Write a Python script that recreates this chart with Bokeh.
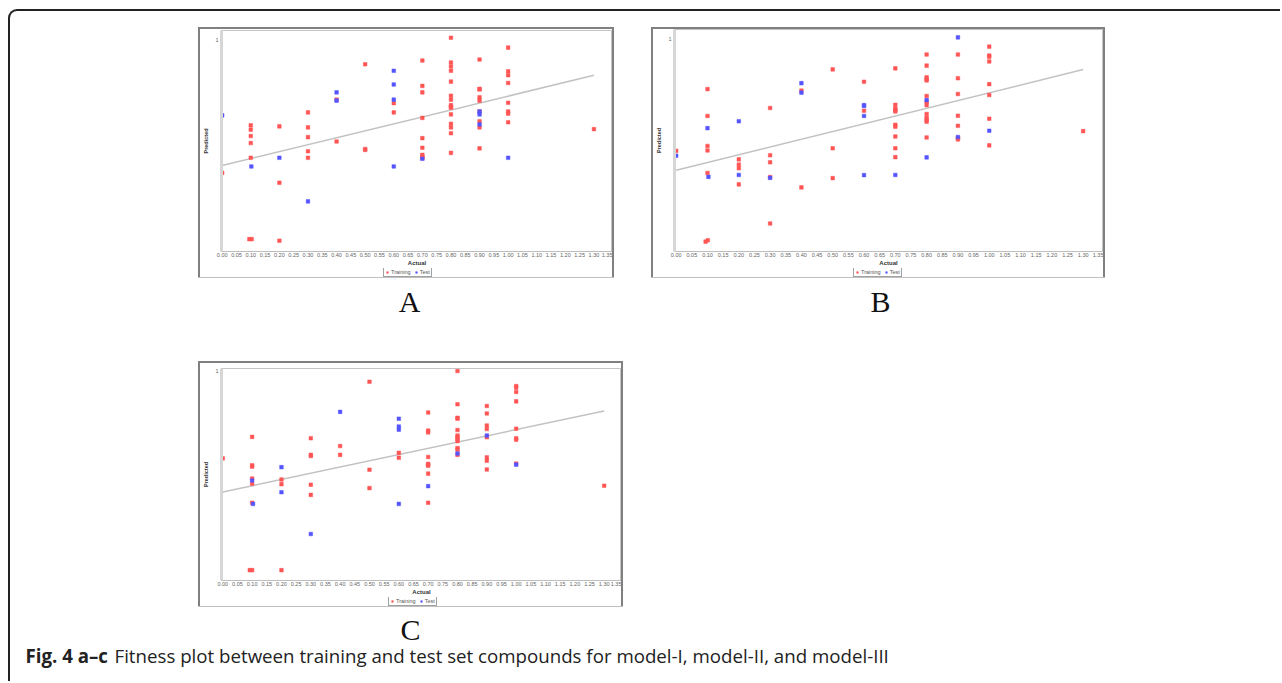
from bokeh.plotting import figure
from bokeh.models import Range1d, FixedTicker, Legend, LegendItem, Spacer, NumeralTickFormatter
from bokeh.layouts import column, row
from bokeh.core.properties import value
from bokeh.embed import file_html
from bokeh.resources import INLINE

# ---------------- data ----------------
x_ticks = [0.00, 0.05, 0.10, 0.15, 0.20, 0.25, 0.30, 0.35, 0.40, 0.45, 0.50, 0.55, 0.60, 0.65,
           0.70, 0.75, 0.80, 0.85, 0.90, 0.95, 1.00, 1.05, 1.10, 1.15, 1.20, 1.25, 1.30, 1.35]
x_tick_labels = ["0.00", "0.05", "0.10", "0.15", "0.20", "0.25", "0.30", "0.35", "0.40", "0.45",
                 "0.50", "0.55", "0.60", "0.65", "0.70", "0.75", "0.80", "0.85", "0.90", "0.95",
                 "1.00", "1.05", "1.10", "1.15", "1.20", "1.25", "1.30", "1.35"]
y_ticks = [1]
y_tick_labels = ["1"]

# Panel A (model-I)
a_train_x = [0.00,
             0.10, 0.10, 0.10, 0.10, 0.10, 0.095, 0.103,
             0.20, 0.20, 0.20,
             0.30, 0.30, 0.30, 0.30, 0.30,
             0.40, 0.40,
             0.50, 0.50, 0.50,
             0.60, 0.60,
             0.70, 0.70, 0.70, 0.70, 0.70, 0.70, 0.70, 0.70, 0.70,
             0.80, 0.80, 0.80, 0.80, 0.80, 0.80, 0.80, 0.80, 0.80, 0.80, 0.80, 0.80, 0.80, 0.80, 0.80,
             0.90, 0.90, 0.90, 0.90, 0.90, 0.90, 0.90, 0.90, 0.90,
             1.00, 1.00, 1.00, 1.00, 1.00, 1.00, 1.00, 1.00,
             1.30]
a_train_y = [0.325,
             0.567, 0.545, 0.513, 0.477, 0.402, -0.012, -0.012,
             0.562, 0.275, -0.020,
             0.633, 0.557, 0.507, 0.435, 0.402,
             0.698, 0.485,
             0.878, 0.447, 0.442,
             0.680, 0.633,
             0.897, 0.768, 0.735, 0.605, 0.502, 0.453, 0.417, 0.408, 0.400,
             1.013, 0.887, 0.867, 0.845, 0.790, 0.718, 0.698, 0.670, 0.662, 0.657, 0.623, 0.575, 0.557, 0.527, 0.427,
             0.902, 0.753, 0.750, 0.710, 0.693, 0.638, 0.588, 0.557, 0.450,
             0.963, 0.842, 0.822, 0.783, 0.682, 0.638, 0.627, 0.583,
             0.548]
a_test_x = [0.00, 0.102, 0.20, 0.30, 0.40, 0.40, 0.60, 0.60, 0.60, 0.60, 0.70, 0.90, 0.90, 0.90, 1.00]
a_test_y = [0.618, 0.358, 0.402, 0.180, 0.735, 0.693, 0.845, 0.775, 0.698, 0.358, 0.397, 0.638, 0.623, 0.572, 0.402]
a_fit_x = [0.0, 1.30]
a_fit_y = [0.363, 0.822]

# Panel B (model-II)
b_train_x = [0.00,
             0.10, 0.10, 0.10, 0.10, 0.10, 0.094, 0.101,
             0.20, 0.20, 0.20, 0.20,
             0.30, 0.30, 0.30, 0.30, 0.30,
             0.40, 0.40,
             0.50, 0.50, 0.50,
             0.60, 0.60,
             0.70, 0.70, 0.70, 0.70, 0.70, 0.70, 0.70, 0.70, 0.70, 0.70,
             0.80, 0.80, 0.80, 0.80, 0.80, 0.80, 0.80, 0.80, 0.80, 0.80, 0.80, 0.80, 0.80,
             0.90, 0.90, 0.90, 0.90, 0.90, 0.90, 0.90,
             1.00, 1.00, 1.00, 1.00, 1.00, 1.00, 1.00, 1.00,
             1.30]
b_train_y = [0.435,
             0.748, 0.612, 0.460, 0.437, 0.323, -0.025, -0.018,
             0.392, 0.365, 0.347, 0.265,
             0.652, 0.413, 0.377, 0.302, 0.067,
             0.740, 0.250,
             0.848, 0.448, 0.297,
             0.785, 0.638,
             0.853, 0.668, 0.648, 0.642, 0.635, 0.567, 0.558, 0.508, 0.448, 0.403,
             0.923, 0.867, 0.808, 0.798, 0.792, 0.713, 0.683, 0.667, 0.622, 0.602, 0.592, 0.583, 0.503,
             0.923, 0.803, 0.723, 0.613, 0.562, 0.500, 0.493,
             0.963, 0.918, 0.912, 0.888, 0.773, 0.718, 0.598, 0.463,
             0.535]
b_test_x = [0.00, 0.10, 0.103, 0.20, 0.20, 0.30, 0.40, 0.40, 0.60, 0.60, 0.60, 0.60, 0.70, 0.80, 0.80, 0.90, 0.90, 1.00]
b_test_y = [0.410, 0.550, 0.303, 0.585, 0.313, 0.298, 0.778, 0.730, 0.667, 0.662, 0.612, 0.312, 0.313, 0.692, 0.402, 1.010, 0.505, 0.537]
b_fit_x = [0.0, 1.30]
b_fit_y = [0.337, 0.847]

# Panel C (model-III)
c_train_x = [0.00,
             0.10, 0.10, 0.10, 0.10, 0.10, 0.10, 0.092, 0.100,
             0.20, 0.20, 0.20,
             0.30, 0.30, 0.30, 0.30, 0.30,
             0.40, 0.40,
             0.50, 0.50, 0.50,
             0.60, 0.60,
             0.70, 0.70, 0.70, 0.70, 0.70, 0.70, 0.70, 0.70, 0.70,
             0.80, 0.80, 0.80, 0.80, 0.80, 0.80, 0.80, 0.80, 0.80, 0.80, 0.80, 0.80,
             0.90, 0.90, 0.90, 0.90, 0.90, 0.90, 0.90, 0.90,
             1.00, 1.00, 1.00, 1.00, 1.00, 1.00, 1.00, 1.00,
             1.30]
c_train_y = [0.555,
             0.665, 0.520, 0.513, 0.452, 0.425, 0.328, -0.017, -0.017,
             0.447, 0.423, -0.017,
             0.658, 0.573, 0.567, 0.420, 0.368,
             0.618, 0.573,
             0.947, 0.497, 0.403,
             0.583, 0.558,
             0.790, 0.697, 0.688, 0.562, 0.527, 0.522, 0.517, 0.477, 0.328,
             1.002, 0.832, 0.763, 0.758, 0.700, 0.672, 0.662, 0.653, 0.643, 0.608, 0.600, 0.573,
             0.823, 0.785, 0.723, 0.705, 0.663, 0.560, 0.543, 0.498,
             0.925, 0.917, 0.895, 0.847, 0.707, 0.658, 0.650, 0.528,
             0.415]
c_test_x = [0.10, 0.103, 0.20, 0.20, 0.30, 0.40, 0.60, 0.60, 0.60, 0.60, 0.70, 0.80, 0.90, 1.00]
c_test_y = [0.442, 0.322, 0.510, 0.382, 0.168, 0.793, 0.758, 0.718, 0.702, 0.322, 0.413, 0.580, 0.672, 0.523]
c_fit_x = [0.0, 1.30]
c_fit_y = [0.383, 0.798]

series_names = ["Training", "Test"]
panel_labels = ["A", "B", "C"]
caption_bold = "Fig. 4 a\u2013c"
caption_rest = "Fitness plot between training and test set compounds for model-I, model-II, and model-III"

RED = "#ff5555"
BLUE = "#5555ff"
MK = dict(marker="square", size=3.6, line_width=0.5)


def plot_fig(tx, ty, sx, sy, fx, fy, xr, yr, W, H, L, T, R, B):
    p = figure(width=W, height=H, x_range=Range1d(*xr), y_range=Range1d(*yr),
               output_backend="svg", toolbar_location=None,
               min_border_left=L, min_border_right=R, min_border_top=T, min_border_bottom=B,
               x_axis_label="Actual", y_axis_label="Predicted",
               background_fill_color="white", border_fill_color="white")
    p.xgrid.visible = False
    p.ygrid.visible = False
    p.outline_line_color = "#c4c4c4"
    p.outline_line_width = 1
    p.line(fx, fy, line_color="#c2c2c2", line_width=1.5)
    p.scatter(tx, ty, fill_color=RED, line_color=RED, **MK)
    p.scatter(sx, sy, fill_color=BLUE, line_color=BLUE, **MK)

    xa = p.xaxis[0]
    ya = p.yaxis[0]
    xa.ticker = FixedTicker(ticks=x_ticks)
    xa.formatter = NumeralTickFormatter(format="0.00")
    xa.major_label_overrides = dict(zip(x_ticks, x_tick_labels))
    ya.ticker = FixedTicker(ticks=y_ticks)
    ya.major_label_overrides = dict(zip(y_ticks, y_tick_labels))
    for ax in (xa, ya):
        ax.axis_line_color = "#bdbdbd"
        ax.major_tick_line_color = "#a0a0a0"
        ax.major_tick_out = 0
        ax.major_tick_in = 0
        ax.minor_tick_line_color = None
        ax.major_label_text_font = "Liberation Sans"
        ax.major_label_text_font_size = "5.5px"
        ax.major_label_text_color = "#666666"
        ax.major_label_standoff = 1
        ax.axis_label_text_font = "Liberation Sans"
        ax.axis_label_text_font_style = "bold"
        ax.axis_label_text_color = "#333333"
        ax.axis_label_standoff = 0
    xa.axis_label_text_font_size = "6px"
    ya.axis_label_text_font_size = "5.5px"
    ya.axis_line_width = 3
    ya.axis_line_color = "#d6d6d6"
    ya.major_label_standoff = 3
    ya.axis_label_standoff = 3
    return p


def legend_fig(W, H, vx):
    f = figure(width=W, height=H, x_range=Range1d(0, 1), y_range=Range1d(0, 1),
               output_backend="svg", toolbar_location=None, min_border=0,
               x_axis_type=None, y_axis_type=None, background_fill_color="white",
               border_fill_color="white")
    f.grid.visible = False
    f.outline_line_color = None
    # off-screen stand-ins so the legend can draw its swatches
    r1 = f.scatter(x=[-5], y=[-5], fill_color=RED, line_color=RED, **MK)
    r2 = f.scatter(x=[-5], y=[-5], fill_color=BLUE, line_color=BLUE, **MK)
    leg = Legend(items=[LegendItem(label=series_names[0], renderers=[r1]),
                        LegendItem(label=series_names[1], renderers=[r2])],
                 location=(vx, 0), orientation="horizontal",
                 label_text_font="Liberation Sans", label_text_font_size="5.5px",
                 label_text_color="#555555", glyph_width=4, glyph_height=4,
                 label_height=4, label_width=0, label_standoff=2, spacing=3,
                 padding=1, margin=0,
                 border_line_color="#444444", border_line_width=1,
                 background_fill_color="white", background_fill_alpha=1.0)
    f.add_layout(leg, "center")
    return f


def panel(plot, leg):
    return column(plot, leg, styles={"outline": "2px solid #808080"})


pA = panel(plot_fig(a_train_x, a_train_y, a_test_x, a_test_y, a_fit_x, a_fit_y,
                    (-0.0024, 1.3649), (-0.075, 1.05), 412, 239, 18, 1, 0, 13),
           legend_fig(412, 9, 162))
pB = panel(plot_fig(b_train_x, b_train_y, b_test_x, b_test_y, b_fit_x, b_fit_y,
                    (-0.0054, 1.3618), (-0.075, 1.05), 450, 239, 19, 0, 1, 14),
           legend_fig(450, 9, 179))
pC = panel(plot_fig(c_train_x, c_train_y, c_test_x, c_test_y, c_fit_x, c_fit_y,
                    (-0.0044, 1.359), (-0.07, 1.015), 421, 234, 18, 5, 0, 13),
           legend_fig(421, 9, 167))


def text_fig(W, H):
    f = figure(width=W, height=H, x_range=Range1d(0, W), y_range=Range1d(H, 0),
               output_backend="svg", toolbar_location=None, min_border=0,
               x_axis_type=None, y_axis_type=None)
    f.grid.visible = False
    f.outline_line_color = None
    return f


# labels A / B
lab1 = text_fig(1270, 86)
lab1.text(x=[399, 870], y=[24, 24], text=panel_labels[:2], text_align="center",
          text_baseline="alphabetic", text_font=value("Liberation Serif"),
          text_font_size="30px", text_color="#111111")

# label C + caption
lab2 = text_fig(1270, 75)
lab2.text(x=[400], y=[23], text=panel_labels[2:], text_align="center",
          text_baseline="alphabetic", text_font=value("Liberation Serif"),
          text_font_size="30px", text_color="#111111")
lab2.text(x=[15], y=[49], text=[caption_bold], text_align="left", text_baseline="alphabetic",
          text_font=value("Open Sans"), text_font_style="bold", text_font_size="18.7px",
          text_color="#222222")
lab2.text(x=[104], y=[49], text=[caption_rest], text_align="left", text_baseline="alphabetic",
          text_font=value("Open Sans"), text_font_size="18.7px", text_color="#222222")

row1 = row(Spacer(width=190, height=10), pA, Spacer(width=41, height=10), pB)
row3 = row(Spacer(width=190, height=10), pC)

root = column(Spacer(width=10, height=18), row1, lab1, row3, lab2,
              margin=(9, 0, 0, 8),
              styles={"border-left": "2px solid #222222", "border-top": "2px solid #222222",
                      "border-top-left-radius": "9px"})

open("out.html", "w").write(file_html(root, INLINE))
